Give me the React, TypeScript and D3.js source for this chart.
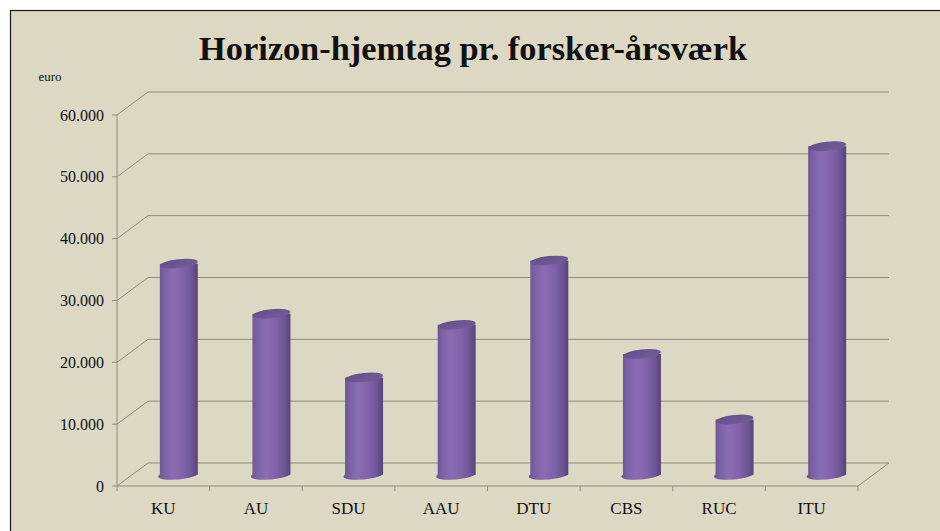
import { useEffect, useRef } from "react";
import * as d3 from "d3";

const categories = ["KU", "AU", "SDU", "AAU", "DTU", "CBS", "RUC", "ITU"];
const values = [34100, 26000, 15700, 24200, 34600, 19500, 8900, 53100];
const yTicks = [0, 10000, 20000, 30000, 40000, 50000, 60000];

const fmt = (v: number) => d3.format(",")(v).replace(/,/g, ".");

export default function App() {
  const svgRef = useRef<SVGSVGElement>(null);

  useEffect(() => {
    if (!svgRef.current) return;
    const svg = d3.select(svgRef.current);
    svg.selectAll("*").remove();

    const W = 940;
    const H = 531;
    const left = 117;
    const right = 858;
    const bottom = 486;
    const top = 115;
    // depth offset of the 3D back wall
    const dx = 31;
    const dy = -23;
    const serif = "'Liberation Serif', 'DejaVu Serif', serif";

    const x = d3.scaleBand().domain(categories).range([left, right]);
    const y = d3.scaleLinear().domain([0, 60000]).range([bottom, top]);

    // Gradients
    const defs = svg.append("defs");
    const body = defs
      .append("linearGradient")
      .attr("id", "cyl")
      .attr("x1", "0")
      .attr("x2", "1")
      .attr("y1", "0")
      .attr("y2", "0");
    [
      ["0%", "#6a5490"],
      ["18%", "#7e63a8"],
      ["38%", "#8b6db4"],
      ["62%", "#8263ab"],
      ["85%", "#6d5694"],
      ["100%", "#574379"],
    ].forEach(([o, c]) => body.append("stop").attr("offset", o).attr("stop-color", c));
    const cap = defs
      .append("linearGradient")
      .attr("id", "cap")
      .attr("x1", "0")
      .attr("x2", "1")
      .attr("y1", "0")
      .attr("y2", "1");
    [
      ["0%", "#634e88"],
      ["100%", "#745e9b"],
    ].forEach(([o, c]) => cap.append("stop").attr("offset", o).attr("stop-color", c));

    // Background + frame
    svg.append("rect").attr("width", W).attr("height", H).attr("fill", "#ffffff");
    svg
      .append("rect")
      .attr("x", 10.5)
      .attr("y", 10.5)
      .attr("width", W)
      .attr("height", H)
      .attr("fill", "#ddd8c3")
      .attr("stroke", "#1a1a1a")
      .attr("stroke-width", 1.2);

    // Title
    svg
      .append("text")
      .attr("x", 473)
      .attr("y", 60)
      .attr("text-anchor", "middle")
      .attr("font-family", serif)
      .attr("font-weight", "bold")
      .attr("font-size", 33)
      .attr("textLength", 548)
      .attr("lengthAdjust", "spacingAndGlyphs")
      .attr("fill", "#111")
      .text("Horizon-hjemtag pr. forsker-årsværk");

    svg
      .append("text")
      .attr("x", 50)
      .attr("y", 81)
      .attr("text-anchor", "middle")
      .attr("font-family", serif)
      .attr("font-size", 13)
      .attr("fill", "#111")
      .text("euro");

    const grid = "#8e8b80";

    // Back wall gridlines and side wall diagonals
    const g = svg.append("g");
    yTicks.forEach((t) => {
      g.append("line")
        .attr("x1", left + dx)
        .attr("x2", right + dx)
        .attr("y1", y(t) + dy)
        .attr("y2", y(t) + dy)
        .attr("stroke", grid)
        .attr("stroke-width", 1);
      g.append("line")
        .attr("x1", left)
        .attr("x2", left + dx)
        .attr("y1", y(t))
        .attr("y2", y(t) + dy)
        .attr("stroke", grid)
        .attr("stroke-width", 1);
    });

    // Floor right edge
    g.append("line")
      .attr("x1", right)
      .attr("y1", y(0))
      .attr("x2", right + dx)
      .attr("y2", y(0) + dy)
      .attr("stroke", grid);

    // Front axes
    g.append("line")
      .attr("x1", left)
      .attr("x2", left)
      .attr("y1", y(60000))
      .attr("y2", y(0))
      .attr("stroke", grid);
    g.append("line")
      .attr("x1", left)
      .attr("x2", right)
      .attr("y1", y(0))
      .attr("y2", y(0))
      .attr("stroke", grid);

    // y ticks + labels
    yTicks.forEach((t) => {
      g.append("line")
        .attr("x1", left - 5)
        .attr("x2", left)
        .attr("y1", y(t))
        .attr("y2", y(t))
        .attr("stroke", grid);
      g.append("text")
        .attr("x", left - 13)
        .attr("y", y(t) + 5.5)
        .attr("text-anchor", "end")
        .attr("font-family", serif)
        .attr("font-size", 16)
        .attr("fill", "#111")
        .text(fmt(t));
    });

    // x ticks + labels
    const bounds = categories.map((c) => x(c)!).concat([right]);
    bounds.forEach((b) => {
      g.append("line")
        .attr("x1", b)
        .attr("x2", b)
        .attr("y1", y(0))
        .attr("y2", y(0) + 5)
        .attr("stroke", grid);
    });
    categories.forEach((c) => {
      g.append("text")
        .attr("x", x(c)! + x.bandwidth() / 2)
        .attr("y", 514)
        .attr("text-anchor", "middle")
        .attr("font-family", serif)
        .attr("font-size", 17)
        .attr("fill", "#111")
        .text(c);
    });

    // Cylinders at mid depth
    const rx = 19;
    const ry = 4.5;
    const tilt = -6;
    const bars = svg.append("g");
    categories.forEach((c, i) => {
      const cx = x(c)! + x.bandwidth() / 2 + dx / 2;
      const yb = y(0) + dy / 2;
      const yt = y(values[i]) + dy / 2;
      const cg = bars.append("g");
      cg.append("path")
        .attr(
          "d",
          `M${cx - rx},${yt} L${cx - rx},${yb} A${rx},${ry} ${tilt} 0 0 ${cx + rx},${yb} L${cx + rx},${yt} Z`
        )
        .attr("fill", "url(#cyl)");
      cg.append("ellipse")
        .attr("cx", cx)
        .attr("cy", yt)
        .attr("rx", rx)
        .attr("ry", ry)
        .attr("transform", `rotate(${tilt},${cx},${yt})`)
        .attr("fill", "url(#cap)");
    });
  }, []);

  return (
    <svg
      ref={svgRef}
      width={940}
      height={531}
      style={{ position: "absolute", left: 0, top: 0 }}
    />
  );
}
